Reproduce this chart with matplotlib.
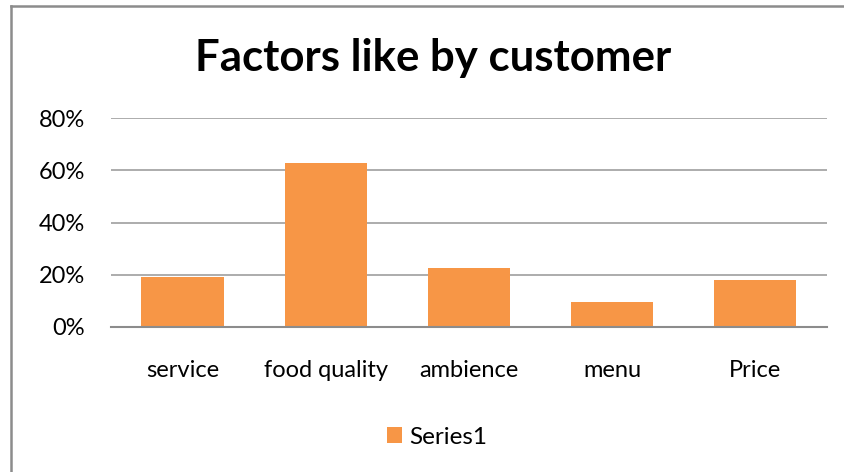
import matplotlib

matplotlib.use("Agg")
import matplotlib.pyplot as plt
from matplotlib.lines import Line2D
from matplotlib.ticker import FuncFormatter
import numpy as np

categories = ["service", "food quality", "ambience", "menu", "Price"]
values = [0.19, 0.63, 0.225, 0.095, 0.18]
yticks = [0.0, 0.2, 0.4, 0.6, 0.8]
series_name = "Series1"
title = "Factors like by customer"

BAR_COLOR = "#F79646"
GRID_COLOR = "#A6A6A6"
FONT = ["Lato", "DejaVu Sans"]

plt.rcParams["font.family"] = FONT

fig = plt.figure(figsize=(8.44, 4.72), dpi=100)
ax = fig.add_axes([111 / 844, 1 - 326.7 / 472, (826.7 - 111) / 844, (326.7 - 118.3) / 472])

x = np.arange(len(categories))
ax.bar(x, values, width=0.575, color=BAR_COLOR, zorder=3, label=series_name)
ax.set_xlim(-0.5, len(categories) - 0.5)
ax.set_ylim(0, 0.8)
ax.set_yticks(yticks)
ax.yaxis.set_major_formatter(FuncFormatter(lambda v, _: f"{v * 100:.0f}%"))
ax.set_xticks(x)
ax.set_xticklabels(categories)
ax.tick_params(axis="both", length=0, labelsize=17, colors="black")
ax.tick_params(axis="x", pad=24)
ax.tick_params(axis="y", pad=18.5)
ax.grid(axis="y", color=GRID_COLOR, linewidth=1.3, zorder=0)
for side in ["top", "right", "left"]:
    ax.spines[side].set_visible(False)
ax.spines["bottom"].set_color("#8C8C8C")
ax.spines["bottom"].set_linewidth(1.5)
ax.spines["bottom"].set_zorder(4)

fig.text(433 / 844, 1 - 58 / 472, title, ha="center", va="center",
         fontsize=31.5, fontweight="bold")

fig.legend(loc="center", bbox_to_anchor=(437 / 844, 1 - 437 / 472), frameon=False,
           fontsize=17.5, handlelength=0.62, handleheight=0.62, handletextpad=0.3)

# chart frame: only top and left edges show in the crop
fig.add_artist(Line2D([11 / 844, 11 / 844], [0, 1 - 6 / 472], color="#8C8C8C", linewidth=1.8))
fig.add_artist(Line2D([11 / 844, 1], [1 - 6 / 472, 1 - 6 / 472], color="#8C8C8C", linewidth=1.8))

fig.savefig("out.png", dpi=100)
